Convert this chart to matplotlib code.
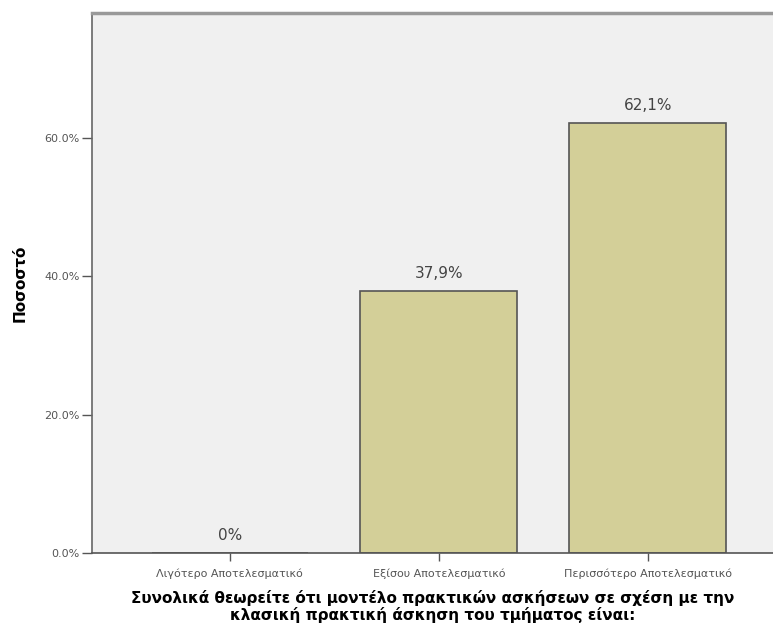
import numpy as np
from matplotlib import pyplot as plt

# data
categories = ['Λιγότερο Αποτελεσματικό', 'Εξίσου Αποτελεσματικό', 'Περισσότερο Αποτελεσματικό']
percent = [0.0, 37.9, 62.1]
value_labels = ['0%', '37,9%', '62,1%']
y_ticks = [0, 20, 40, 60]
y_tick_labels = ['0.0%', '20.0%', '40.0%', '60.0%']

plt.rcParams['font.family'] = ['DejaVu Sans']

fig = plt.figure(figsize=(7.73, 6.30), dpi=100)
ax = fig.add_axes([92 / 773, 77 / 630, 681 / 773, 540 / 630])
ax.set_facecolor('#f0f0f0')

x = np.arange(len(categories))
bars = ax.bar(x, percent, width=0.75, color='#d3cf98', edgecolor='#555555', linewidth=1.2, zorder=2)
for b, lab in zip(bars, value_labels):
    ax.annotate(lab, (b.get_x() + b.get_width() / 2, b.get_height()),
                xytext=(0, 7), textcoords='offset points', ha='center', va='bottom',
                fontsize=11, color='#444444')

ax.set_xlim(-0.66, 2.60)
ax.set_ylim(0, 78)
ax.set_xticks(x)
ax.set_xticklabels(categories, fontsize=8, color='#555555')
ax.set_yticks(y_ticks)
ax.set_yticklabels(y_tick_labels, fontsize=8, color='#555555')
ax.tick_params(axis='y', length=7, width=1, color='#555555', pad=2)
ax.tick_params(axis='x', length=6, width=1, color='#555555', pad=5)

ax.spines['right'].set_visible(False)
ax.spines['top'].set_color('#999999')
ax.spines['top'].set_linewidth(2.5)
ax.spines['left'].set_color('#666666')
ax.spines['left'].set_linewidth(1.2)
ax.spines['bottom'].set_color('#555555')
ax.spines['bottom'].set_linewidth(1.2)

ax.set_ylabel('Ποσοστό', fontsize=11, fontweight='bold', labelpad=12)
ax.set_xlabel('Συνολικά θεωρείτε ότι μοντέλο πρακτικών ασκήσεων σε σχέση με την\n'
              'κλασική πρακτική άσκηση του τμήματος είναι:',
              fontsize=11, fontweight='bold', linespacing=1.1, labelpad=8)

fig.savefig('out.png', dpi=100)
